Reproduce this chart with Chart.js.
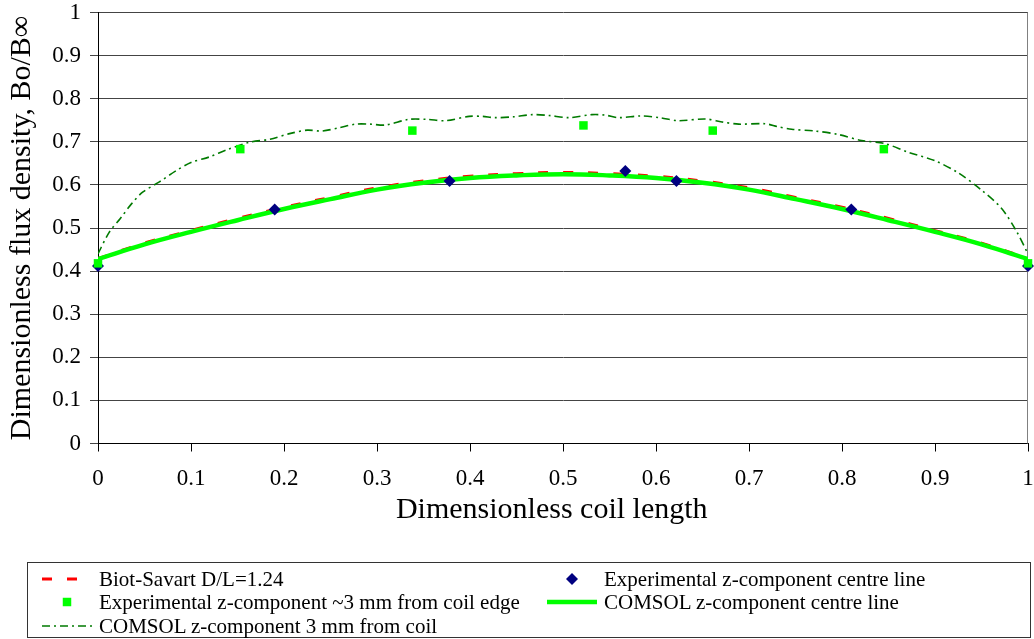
<!DOCTYPE html>
<html>
<head>
<meta charset="utf-8">
<script src="https://cdn.jsdelivr.net/npm/chart.js@4/dist/chart.umd.min.js"></script>
<style>
  body { margin: 0; background: #fff; }
  #wrap { position: relative; width: 1034px; height: 639px; }
  #legend { position: absolute; left: 27px; top: 562px; width: 1002px; height: 74px; border: 1px solid #333; }
  .item { position: absolute; height: 24px; white-space: nowrap; font: 21px 'Liberation Serif', 'Times New Roman', serif; line-height: 24px; color: #000; }
  .item canvas { position: absolute; left: 0; top: 0; }
  .item span { position: absolute; left: 57px; top: 0; }
</style>
</head>
<body>
<div id="wrap">
  <canvas id="chart"></canvas>
  <div id="legend"></div>
</div>
<script>
const serif = "'Liberation Serif', 'Times New Roman', serif";

// centre line curves, sampled every 0.05
const centreX = [0, 0.05, 0.1, 0.15, 0.2, 0.25, 0.3, 0.35, 0.4, 0.45, 0.5, 0.55, 0.6, 0.65, 0.7, 0.75, 0.8, 0.85, 0.9, 0.95, 1];
const biotSavart = [0.429, 0.465, 0.494, 0.522, 0.548, 0.571, 0.593, 0.609, 0.62, 0.626, 0.629, 0.626, 0.62, 0.609, 0.593, 0.571, 0.548, 0.522, 0.494, 0.465, 0.429];
const comsolCentre = [0.428, 0.462, 0.491, 0.518, 0.544, 0.567, 0.589, 0.605, 0.616, 0.622, 0.625, 0.622, 0.616, 0.605, 0.589, 0.567, 0.544, 0.518, 0.491, 0.462, 0.428];

// measurements
const expCentreX = [0, 0.19, 0.378, 0.567, 0.622, 0.81, 1];
const expCentreY = [0.412, 0.543, 0.609, 0.632, 0.609, 0.543, 0.412];
const expEdgeX = [0, 0.153, 0.338, 0.522, 0.661, 0.845, 1];
const expEdgeY = [0.418, 0.683, 0.726, 0.738, 0.726, 0.683, 0.418];

// COMSOL 3 mm from coil (wiggly)
const comsolEdgeX = [0, 0.012, 0.024, 0.036, 0.048, 0.066, 0.084, 0.1, 0.12, 0.138, 0.163, 0.185, 0.206, 0.225, 0.241, 0.26, 0.277, 0.293, 0.309, 0.334, 0.354, 0.374, 0.399, 0.413, 0.427, 0.447, 0.467, 0.485, 0.506, 0.531, 0.545, 0.56, 0.584, 0.604, 0.624, 0.653, 0.671, 0.689, 0.717, 0.731, 0.746, 0.771, 0.796, 0.821, 0.846, 0.871, 0.9, 0.925, 0.95, 0.971, 0.987, 1];
const comsolEdgeY = [0.44, 0.49, 0.522, 0.556, 0.583, 0.607, 0.633, 0.652, 0.665, 0.681, 0.699, 0.706, 0.719, 0.727, 0.725, 0.733, 0.741, 0.741, 0.739, 0.752, 0.752, 0.749, 0.759, 0.759, 0.756, 0.758, 0.763, 0.761, 0.756, 0.763, 0.762, 0.756, 0.76, 0.756, 0.749, 0.753, 0.746, 0.741, 0.742, 0.735, 0.729, 0.725, 0.717, 0.703, 0.696, 0.676, 0.656, 0.628, 0.588, 0.547, 0.495, 0.44];

const pts = (xs, ys) => xs.map((x, i) => ({x: x, y: ys[i]}));

const plotBorder = {
  id: 'plotBorder',
  beforeDatasetsDraw(chart) {
    const {ctx, chartArea: a} = chart;
    ctx.save();
    ctx.strokeStyle = '#808080';
    ctx.lineWidth = 1;
    ctx.beginPath();
    ctx.moveTo(a.right - 0.5, a.top);
    ctx.lineTo(a.right - 0.5, a.bottom);
    ctx.stroke();
    ctx.restore();
  }
};

const datasets = [
  {label: 'Biot-Savart D/L=1.24', data: pts(centreX, biotSavart), showLine: true, borderColor: '#ff0000', backgroundColor: '#ff0000',
   borderWidth: 3, borderDash: [10, 15], pointRadius: 0, tension: 0.4, order: 4},
  {label: 'Experimental z-component centre line', data: pts(expCentreX, expCentreY), showLine: false, pointStyle: 'rectRot',
   pointRadius: 6, pointHoverRadius: 6, backgroundColor: '#000080', borderColor: '#000080', borderWidth: 0, clip: false, order: 1},
  {label: 'Experimental z-component ~3 mm from coil edge', data: pts(expEdgeX, expEdgeY), showLine: false, pointStyle: 'rect',
   pointRadius: 6, pointHoverRadius: 6, backgroundColor: '#00ff00', borderColor: '#00ff00', borderWidth: 0, clip: false, order: 0},
  {label: 'COMSOL z-component centre line', data: pts(centreX, comsolCentre), showLine: true, borderColor: '#00ff00', backgroundColor: '#00ff00',
   borderWidth: 4.5, pointRadius: 0, tension: 0.4, order: 3},
  {label: 'COMSOL z-component 3 mm from coil', data: pts(comsolEdgeX, comsolEdgeY), showLine: true, borderColor: '#007a00', backgroundColor: '#007a00',
   borderWidth: 1.6, borderDash: [8, 4, 2, 4], pointRadius: 0, tension: 0.3, order: 2}
];

const chart = new Chart(document.getElementById('chart'), {
  type: 'scatter',
  data: {datasets: datasets},
  options: {
    responsive: true,
    maintainAspectRatio: false,
    animation: false,
    layout: {padding: {top: 12.5, right: 4, bottom: 100.5, left: 0}},
    plugins: {legend: {display: false}, tooltip: {enabled: false}},
    scales: {
      x: {
        type: 'linear', min: 0, max: 1,
        ticks: {stepSize: 0.1, padding: 14, color: '#000', maxRotation: 0, autoSkip: false,
                font: {family: serif, size: 23}, callback: v => String(+v.toFixed(1))},
        grid: {drawOnChartArea: false, drawTicks: true, tickLength: 8, color: '#000'},
        border: {color: '#000'},
        // trailing spaces nudge the title left like the original
        title: {display: true, text: 'Dimensionless coil length\u00a0\u00a0\u00a0', color: '#000',
                font: {family: serif, size: 30}, padding: {top: 0, bottom: 10.5}},
        afterFit: s => { s.height = 95; s.paddingLeft = 0; s.paddingRight = 0; }
      },
      y: {
        min: 0, max: 1,
        ticks: {stepSize: 0.1, padding: 9, color: '#000', font: {family: serif, size: 23},
                callback: v => String(+v.toFixed(1))},
        grid: {color: '#444', tickLength: 8},
        border: {color: '#000'},
        title: {display: true, text: 'Dimensionless flux density, Bo/B\u221e', color: '#000',
                font: {family: serif, size: 30}, padding: {top: 4, bottom: 0}},
        afterFit: s => { s.width = 98; s.paddingTop = 0; s.paddingBottom = 0; }
      }
    }
  },
  plugins: [plotBorder]
});

// legend laid out like the original: two columns, three rows
const slots = [[14, 4], [519, 4], [14, 27], [519, 27], [14, 51]];
const legend = document.getElementById('legend');
chart.data.datasets.forEach((ds, i) => {
  const item = document.createElement('div');
  item.className = 'item';
  item.style.left = slots[i][0] + 'px';
  item.style.top = slots[i][1] + 'px';
  const cv = document.createElement('canvas');
  cv.width = 50; cv.height = 24;
  const ctx = cv.getContext('2d');
  if (ds.showLine) {
    ctx.strokeStyle = ds.borderColor;
    ctx.lineWidth = ds.borderWidth;
    ctx.setLineDash(ds.borderDash || []);
    ctx.beginPath();
    ctx.moveTo(0, 12);
    ctx.lineTo(50, 12);
    ctx.stroke();
  } else {
    ctx.fillStyle = ds.backgroundColor;
    Chart.helpers.drawPoint(ctx, {pointStyle: ds.pointStyle, radius: ds.pointRadius, borderWidth: 0, rotation: 0}, 25, 12);
  }
  const txt = document.createElement('span');
  txt.textContent = ds.label;
  item.appendChild(cv);
  item.appendChild(txt);
  legend.appendChild(item);
});
</script>
</body>
</html>
